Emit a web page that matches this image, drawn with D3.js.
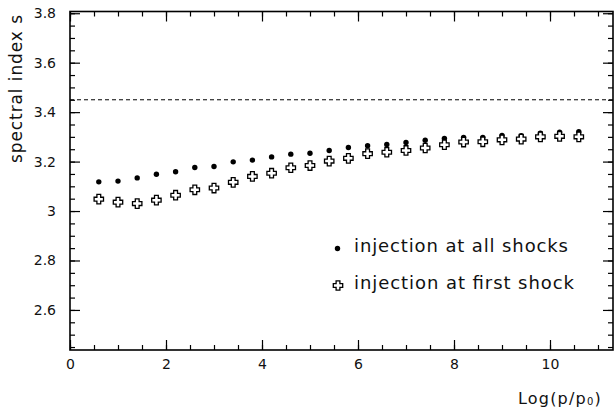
<!DOCTYPE html>
<html>
<head>
<meta charset="utf-8">
<script src="https://d3js.org/d3.v7.min.js"></script>
<title>spectral index</title>
<style>
  body { margin: 0; background: #fff; }
  text { font-family: "DejaVu Sans", sans-serif; fill: #111; }
</style>
</head>
<body>
<div id="chart"></div>
<script>
// log momentum positions of the points
var logP = [0.6, 1.0, 1.4, 1.8, 2.2, 2.6, 3.0, 3.4, 3.8, 4.2, 4.6, 5.0, 5.4,
            5.8, 6.2, 6.6, 7.0, 7.4, 7.8, 8.2, 8.6, 9.0, 9.4, 9.8, 10.2, 10.6];

// spectral index, injection at all shocks (filled dots)
var allShocks = [3.118, 3.121, 3.134, 3.149, 3.159, 3.176, 3.180, 3.199, 3.206,
                 3.219, 3.230, 3.234, 3.245, 3.257, 3.264, 3.269, 3.277, 3.286,
                 3.294, 3.298, 3.298, 3.306, 3.305, 3.315, 3.319, 3.321];

// spectral index, injection at first shock (open crosses)
var firstShock = [3.048, 3.036, 3.030, 3.044, 3.064, 3.086, 3.093, 3.116, 3.140,
                  3.153, 3.175, 3.184, 3.202, 3.213, 3.232, 3.238, 3.245, 3.255,
                  3.268, 3.279, 3.280, 3.288, 3.291, 3.300, 3.302, 3.300];

var asymptote = 3.45;

var xMajor = [0, 2, 4, 6, 8, 10];
var xMajorLabels = ["0", "2", "4", "6", "8", "10"];
var yMajor = [2.6, 2.8, 3.0, 3.2, 3.4, 3.6, 3.8];
var yMajorLabels = ["2.6", "2.8", "3", "3.2", "3.4", "3.6", "3.8"];

var legendLabels = ["injection at all shocks", "injection at first shock"];

(function(){
  var w = 616, h = 412;
  var left = 70, right = 613, top = 11.5, bottom = 350;

  var xMinor = d3.range(0, 23).map(function(i){ return i * 0.5; });
  var yMinor = d3.range(49, 77).map(function(i){ return Math.round(i * 5) / 100; });

  var x = d3.scaleLinear().domain([0, 11.3125]).range([left, right]);
  var y = d3.scaleLinear().domain([2.438, 3.807]).range([bottom, top]);

  var svg = d3.select("#chart").append("svg")
      .attr("width", w).attr("height", h);

  function clean(g) {
    g.select(".domain").remove();
    g.selectAll("line").attr("stroke", "#000").attr("stroke-width", 1.2);
    g.selectAll("text").attr("font-family", "DejaVu Sans").attr("font-size", 14).attr("fill", "#111");
  }

  // bottom ticks + labels
  svg.append("g").attr("transform", "translate(0," + bottom + ")")
     .call(d3.axisBottom(x).tickValues(xMinor).tickSizeInner(-5).tickSizeOuter(0).tickFormat(""))
     .call(clean);
  svg.append("g").attr("transform", "translate(0," + bottom + ")")
     .call(d3.axisBottom(x).tickValues(xMajor).tickSizeInner(-10).tickSizeOuter(0).tickPadding(9)
           .tickFormat(function(d, i){ return xMajorLabels[i]; }))
     .call(clean);
  // top mirrored ticks
  svg.append("g").attr("transform", "translate(0," + top + ")")
     .call(d3.axisTop(x).tickValues(xMinor).tickSizeInner(-5).tickSizeOuter(0).tickFormat(""))
     .call(clean);
  svg.append("g").attr("transform", "translate(0," + top + ")")
     .call(d3.axisTop(x).tickValues(xMajor).tickSizeInner(-10).tickSizeOuter(0).tickFormat(""))
     .call(clean);

  // left ticks + labels
  svg.append("g").attr("transform", "translate(" + left + ",0)")
     .call(d3.axisLeft(y).tickValues(yMinor).tickSizeInner(-5).tickSizeOuter(0).tickFormat(""))
     .call(clean);
  svg.append("g").attr("transform", "translate(" + left + ",0)")
     .call(d3.axisLeft(y).tickValues(yMajor).tickSizeInner(-10).tickSizeOuter(0).tickPadding(14)
           .tickFormat(function(d, i){ return yMajorLabels[i]; }))
     .call(clean);
  // right mirrored ticks
  svg.append("g").attr("transform", "translate(" + right + ",0)")
     .call(d3.axisRight(y).tickValues(yMinor).tickSizeInner(-5).tickSizeOuter(0).tickFormat(""))
     .call(clean);
  svg.append("g").attr("transform", "translate(" + right + ",0)")
     .call(d3.axisRight(y).tickValues(yMajor).tickSizeInner(-10).tickSizeOuter(0).tickFormat(""))
     .call(clean);

  // frame
  svg.append("rect")
     .attr("x", left).attr("y", top)
     .attr("width", right - left).attr("height", bottom - top)
     .attr("fill", "none").attr("stroke", "#000").attr("stroke-width", 1.6);

  // dashed asymptotic value
  svg.append("line")
     .attr("x1", left).attr("x2", right)
     .attr("y1", y(asymptote)).attr("y2", y(asymptote))
     .attr("stroke", "#000").attr("stroke-width", 1)
     .attr("stroke-dasharray", "4,3");

  var crossPath = "M-1.9,-4.7H1.9V-1.9H4.7V1.9H1.9V4.7H-1.9V1.9H-4.7V-1.9H-1.9Z";

  svg.selectAll("circle.all")
     .data(logP)
     .enter().append("circle")
       .attr("class", "all")
       .attr("cx", function(d){ return x(d); })
       .attr("cy", function(d, i){ return y(allShocks[i]); })
       .attr("r", 2.7)
       .attr("fill", "#000");

  svg.selectAll("path.first")
     .data(logP)
     .enter().append("path")
       .attr("class", "first")
       .attr("d", crossPath)
       .attr("transform", function(d, i){ return "translate(" + x(d) + "," + y(firstShock[i]) + ")"; })
       .attr("fill", "#fff").attr("stroke", "#000").attr("stroke-width", 1.3);

  // legend
  svg.append("circle").attr("cx", 337.5).attr("cy", 248.5).attr("r", 2.7).attr("fill", "#000");
  svg.append("path").attr("d", crossPath).attr("transform", "translate(338,285.5)")
     .attr("fill", "#fff").attr("stroke", "#000").attr("stroke-width", 1.3);
  svg.append("text").attr("x", 354).attr("y", 252).attr("font-size", 18)
     .attr("textLength", 214).attr("lengthAdjust", "spacing")
     .text(legendLabels[0]);
  svg.append("text").attr("x", 354).attr("y", 288.5).attr("font-size", 18)
     .attr("textLength", 220).attr("lengthAdjust", "spacing")
     .text(legendLabels[1]);

  // axis titles
  svg.append("text")
     .attr("transform", "translate(22,89) rotate(-90)")
     .attr("text-anchor", "middle").attr("font-size", 17)
     .attr("textLength", 148).attr("lengthAdjust", "spacing")
     .text("spectral index s");

  var xt = svg.append("text").attr("x", 518).attr("y", 404)
     .attr("font-size", 16).attr("letter-spacing", 1.2);
  xt.append("tspan").text("Log(p/p");
  xt.append("tspan").attr("font-size", 10).attr("dy", 1).text("0");
  xt.append("tspan").attr("dy", -1).text(")");
})();
</script>
</body>
</html>
